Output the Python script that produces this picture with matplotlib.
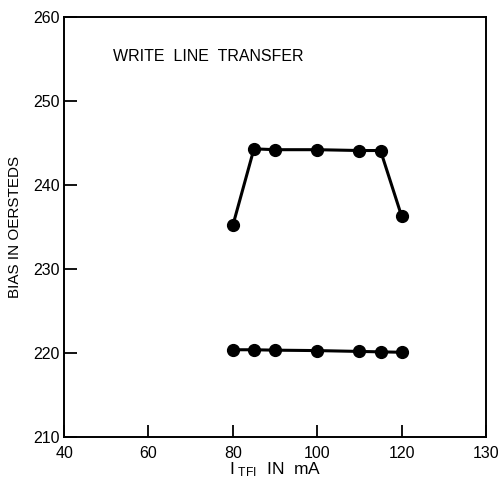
import matplotlib
matplotlib.use("Agg")
import matplotlib.pyplot as plt

plt.rcParams['font.family'] = ['Liberation Sans', 'DejaVu Sans']

# Drive current (mA) and measured bias (oersteds)
current_ma = [80, 85, 90, 100, 110, 115, 120]
bias_upper = [235.2, 244.3, 244.2, 244.2, 244.1, 244.1, 236.3]
bias_lower = [220.4, 220.4, 220.35, 220.3, 220.2, 220.15, 220.1]

x_ticks = [40, 60, 80, 100, 120, 140]
x_tick_labels = ['40', '60', '80', '100', '120', '130']
y_ticks = [210, 220, 230, 240, 250, 260]

fig = plt.figure(figsize=(5.01, 4.82), dpi=100)
ax = fig.add_axes([0.128, 0.093, 0.842, 0.872])

for series in (bias_upper, bias_lower):
    ax.plot(current_ma, series, color='black', lw=2.2, marker='o',
            markersize=8.5, solid_capstyle='round')

ax.set_xlim(40, 140)
ax.set_ylim(210, 260)
ax.set_xticks(x_ticks)
ax.set_xticklabels(x_tick_labels)
ax.set_yticks(y_ticks)
ax.tick_params(axis='both', direction='in', length=9, width=1.3,
               labelsize=11.5, top=False, right=False)
ax.tick_params(axis='x', pad=6)
ax.tick_params(axis='y', pad=3)
for s in ax.spines.values():
    s.set_linewidth(1.4)

ax.set_ylabel('BIAS IN OERSTEDS', fontsize=11, labelpad=8)
ax.set_xlabel(r'$\mathregular{I_{\ TFI}}$  IN  mA', fontsize=12.5, labelpad=0)

ax.text(0.115, 0.905, 'WRITE  LINE  TRANSFER',
        transform=ax.transAxes, fontsize=11.5, ha='left', va='center')

fig.savefig('out.png', dpi=100)
